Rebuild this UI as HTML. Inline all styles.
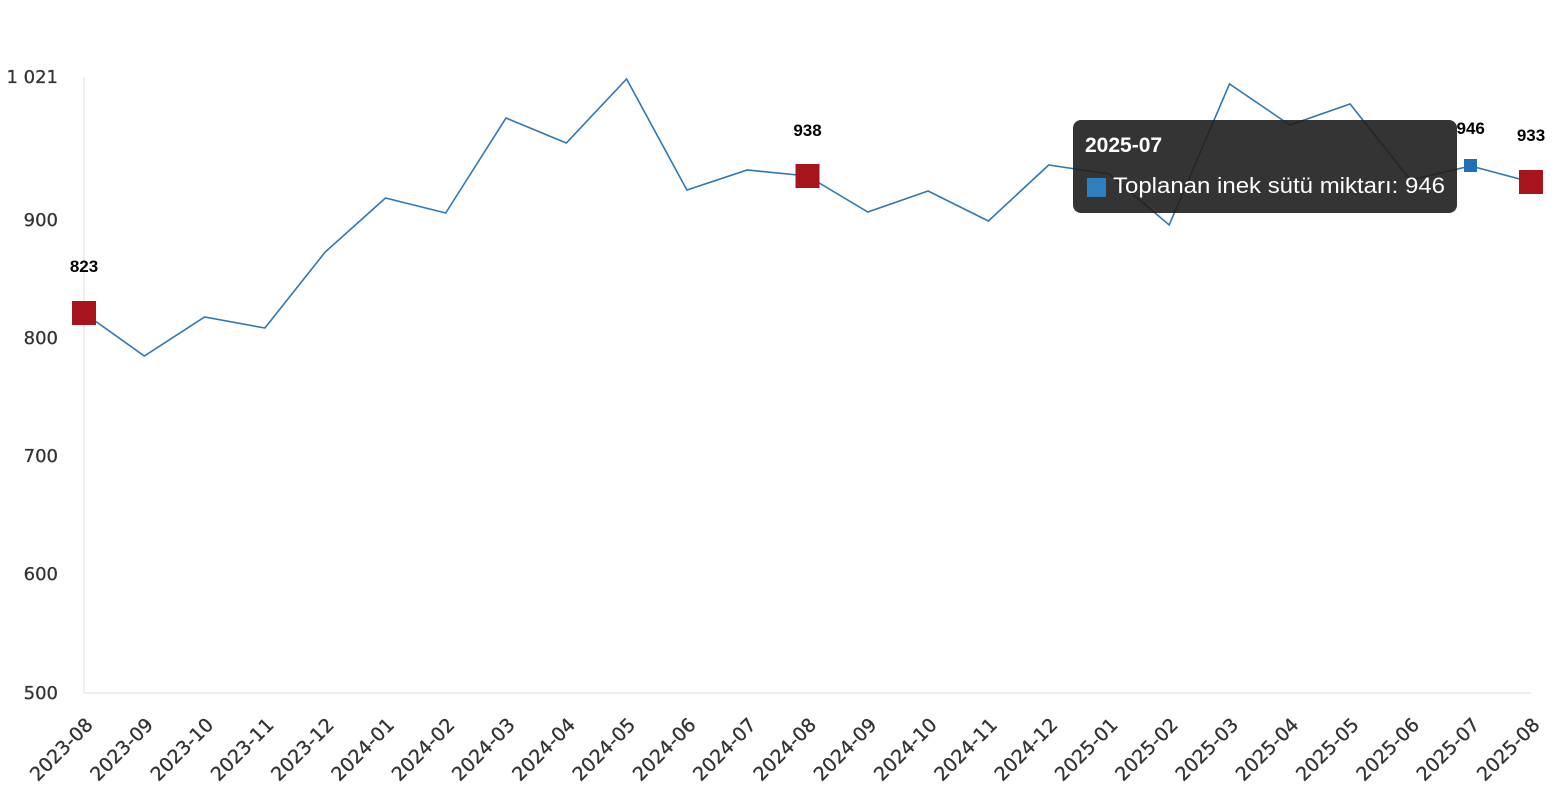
<!DOCTYPE html>
<html><head><meta charset="utf-8"><style>
html,body{margin:0;padding:0;background:#fff;}
svg{display:block;font-family:"Liberation Sans",sans-serif;}
</style></head><body>
<svg width="1556" height="800" viewBox="0 0 1556 800">
<line x1="84" y1="77" x2="84" y2="693" stroke="#ddd" stroke-width="1"/>
<line x1="84" y1="693" x2="1531" y2="693" stroke="#ddd" stroke-width="1"/>
<g font-size="18" fill="#333" text-anchor="end" font-family="DejaVu Sans, sans-serif" stroke="#333" stroke-width="0.3">
<text x="58" y="83">1 021</text>
<text x="58" y="226">900</text>
<text x="58" y="344">800</text>
<text x="58" y="462">700</text>
<text x="58" y="580">600</text>
<text x="58" y="699">500</text>
</g>
<g font-size="19" fill="#333" text-anchor="end" id="xl" font-family="DejaVu Sans, sans-serif" stroke="#333" stroke-width="0.3"></g>
<polyline fill="none" stroke="#2f78b4" stroke-width="1.6" points="84,313 144.3,356 204.6,317 264.9,328 325.2,252 385.5,198 445.7,213 506,118 566.3,143 626.6,79 686.9,190 747.2,170 807.5,176 867.8,212 928.1,191 988.4,221 1048.7,165 1109,174 1169.2,225 1229.5,84 1289.8,125 1350.1,104 1410.4,180 1470.7,166 1531,182"/>
<rect x="72" y="301" width="24" height="24" fill="#a8141c"/>
<rect x="795.5" y="164" width="24" height="24" fill="#a8141c"/>
<rect x="1519" y="170" width="24" height="24" fill="#a8141c"/>
<rect x="1464" y="159" width="13" height="13" fill="#1f6fb5"/>
<g font-size="17" font-weight="bold" fill="#000" text-anchor="middle">
<text x="84" y="272">823</text>
<text x="807.5" y="136">938</text>
<text x="1470.7" y="134">946</text>
<text x="1531" y="141">933</text>
</g>
<rect x="1073" y="120" width="384" height="93" rx="8" fill="rgba(30,30,30,0.9)"/>
<text x="1085" y="152" font-size="21" font-weight="bold" fill="#fff">2025-07</text>
<rect x="1087" y="178" width="19" height="19" fill="#2f7fc0"/>
<text x="1113" y="193" font-size="22" fill="#fff" textLength="332" lengthAdjust="spacingAndGlyphs">Toplanan inek sütü miktarı: 946</text>
</svg>
<script>
var labels=["2023-08","2023-09","2023-10","2023-11","2023-12","2024-01","2024-02","2024-03","2024-04","2024-05","2024-06","2024-07","2024-08","2024-09","2024-10","2024-11","2024-12","2025-01","2025-02","2025-03","2025-04","2025-05","2025-06","2025-07","2025-08"];
var g=document.getElementById("xl"),s="";
labels.forEach(function(l,i){var x=84+i*60.29+10,y=726;s+='<text transform="translate('+x+','+y+') rotate(-45)">'+l+'</text>';});
g.innerHTML=s;
</script>
</body></html>
